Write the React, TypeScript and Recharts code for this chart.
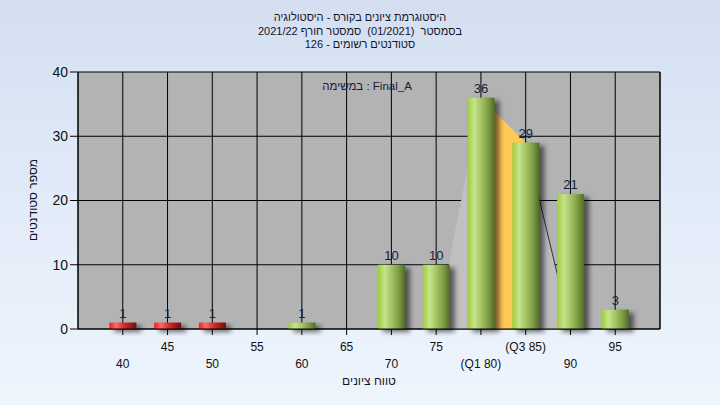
import React from 'react';
import { ComposedChart, Bar, Area, XAxis, YAxis, CartesianGrid, LabelList } from 'recharts';

// ---- data ----
const bins = [40, 45, 50, 55, 60, 65, 70, 75, 80, 85, 90, 95];
const counts: (number | null)[] = [1, 1, 1, null, 1, null, 10, 10, 36, 29, 21, 3];
const binStatus = ['fail', 'fail', 'fail', 'fail', 'pass', 'pass', 'pass', 'pass', 'pass', 'pass', 'pass', 'pass'];
const tickLabels = ['40', '45', '50', '55', '60', '65', '70', '75', '(Q1 80)', '(Q3 85)', '90', '95'];
const yTicks = [0, 10, 20, 30, 40];

const riseX = [75, 80];
const riseY = [0, 36];
const iqrX = [80, 85];
const iqrY = [36, 29];
const fallX = [85, 90];
const fallY = [29, 0];

const titleLines = [
  'היסטוגרמת ציונים בקורס - היסטולוגיה',
  'בסמסטר\u00a0\u00a0(01/2021)\u00a0\u00a0סמסטר חורף 2021/22',
  'סטודנטים רשומים - 126',
];
const legendText = 'במשימה : Final_A';
const yTitle = 'מספר סטודנטים';
const xTitle = 'טווח ציונים';

const lookup = (xs: number[], ys: number[], x: number) => {
  const i = xs.indexOf(x);
  return i < 0 ? null : ys[i];
};

const rows = bins.map((x, i) => ({
  x,
  count: counts[i],
  status: binStatus[i],
  rise: lookup(riseX, riseY, x),
  iqr: lookup(iqrX, iqrY, x),
  fall: lookup(fallX, fallY, x),
}));

const FONT = '"Liberation Sans", "DejaVu Sans", Arial, sans-serif';

const CylBar = (props: any) => {
  const { x, y, width, height, payload } = props;
  if (height == null || height <= 0) return null;
  const grad = payload.status === 'fail' ? 'url(#gRed)' : 'url(#gGreen)';
  return (
    <g>
      <rect x={x + 5} y={y + 3} width={width} height={height} fill="#000" opacity={0.55} filter="url(#shadowBlur)" />
      <rect x={x} y={y} width={width} height={height} fill={grad} />
    </g>
  );
};

const XTick = (props: any) => {
  const { x, y, payload } = props;
  const idx = bins.indexOf(payload.value);
  const label = idx >= 0 ? tickLabels[idx] : String(payload.value);
  const lower = idx % 2 === 0;
  return (
    <text x={x} y={lower ? y + 31 : y + 14} textAnchor="middle" fontSize={12} fill="#111" fontFamily={FONT}>
      {label}
    </text>
  );
};

export default function App() {
  return (
    <div
      style={{
        position: 'absolute',
        left: 0,
        top: 0,
        width: 720,
        height: 405,
        background: 'linear-gradient(to bottom, #d3dff1 0%, #e2ebf8 50%, #eef5fd 100%)',
        overflow: 'hidden',
      }}
    >
      <ComposedChart width={720} height={405} data={rows} margin={{ top: 72, right: 0, bottom: 0, left: 0 }}>
        <defs>
          <linearGradient id="gGreen" x1="0" y1="0" x2="1" y2="0">
            <stop offset="0%" stopColor="#9fcc3c" />
            <stop offset="25%" stopColor="#c6e48c" />
            <stop offset="50%" stopColor="#a5c464" />
            <stop offset="78%" stopColor="#7a9a42" />
            <stop offset="100%" stopColor="#526a26" />
          </linearGradient>
          <linearGradient id="gRed" x1="0" y1="0" x2="1" y2="0">
            <stop offset="0%" stopColor="#ff1a1a" />
            <stop offset="25%" stopColor="#ff6a6a" />
            <stop offset="55%" stopColor="#d42a2a" />
            <stop offset="100%" stopColor="#6e0e0e" />
          </linearGradient>
          <filter id="shadowBlur" x="-50%" y="-50%" width="200%" height="200%">
            <feGaussianBlur stdDeviation="2.5" />
          </filter>
        </defs>
        <CartesianGrid yAxisId="left" stroke="#000" strokeWidth={1} fill="#b3b3b3" fillOpacity={1} />
        <XAxis
          dataKey="x"
          type="number"
          domain={[35, 100]}
          ticks={bins}
          interval={0}
          height={76}
          tickSize={6}
          tickLine={{ stroke: '#000' }}
          axisLine={{ stroke: '#000' }}
          tick={<XTick />}
          allowDataOverflow
        />
        <YAxis
          yAxisId="left"
          domain={[0, 40]}
          ticks={yTicks}
          width={78}
          tickSize={8}
          tickLine={{ stroke: '#000' }}
          axisLine={{ stroke: '#000' }}
          tick={{ fontSize: 14, fill: '#111', fontFamily: FONT }}
        />
        <YAxis
          yAxisId="right"
          orientation="right"
          domain={[0, 40]}
          ticks={yTicks}
          width={60}
          tickSize={8}
          tickLine={{ stroke: '#000' }}
          axisLine={{ stroke: '#000' }}
          tick={{ fontSize: 14, fill: '#111', fontFamily: FONT, textAnchor: 'start' }}
        />
        <Area yAxisId="left" type="linear" dataKey="rise" stroke="none" fill="#c0c0c0" fillOpacity={1} isAnimationActive={false} connectNulls={false} />
        <Area yAxisId="left" type="linear" dataKey="iqr" stroke="none" fill="#ffc955" fillOpacity={1} isAnimationActive={false} connectNulls={false} />
        <Area yAxisId="left" type="linear" dataKey="fall" stroke="#333" strokeWidth={1} fill="#bdbdbd" fillOpacity={1} isAnimationActive={false} connectNulls={false} />
        <Bar yAxisId="left" dataKey="count" barSize={27} shape={<CylBar />} isAnimationActive={false}>
          <LabelList dataKey="count" position="top" offset={5} fontSize={13} fill="#14203a" fontFamily={FONT} />
        </Bar>
      </ComposedChart>
      <svg width={720} height={405} style={{ position: 'absolute', left: 0, top: 0, pointerEvents: 'none' }}>
        {titleLines.map((t, i) => (
          <text key={i} x={360} y={21 + i * 13.5} textAnchor="middle" fontSize={11} fill="#141428" fontFamily={FONT}>
            {t}
          </text>
        ))}
        <text x={367} y={90} textAnchor="middle" fontSize={11.5} fill="#201838" fontFamily={FONT}>
          {legendText}
        </text>
        <text x={37} y={200} transform="rotate(-90 37 200)" textAnchor="middle" fontSize={12} fill="#141428" fontFamily={FONT}>
          {yTitle}
        </text>
        <text x={369} y={385} textAnchor="middle" fontSize={12} fill="#141428" fontFamily={FONT}>
          {xTitle}
        </text>
      </svg>
    </div>
  );
}
